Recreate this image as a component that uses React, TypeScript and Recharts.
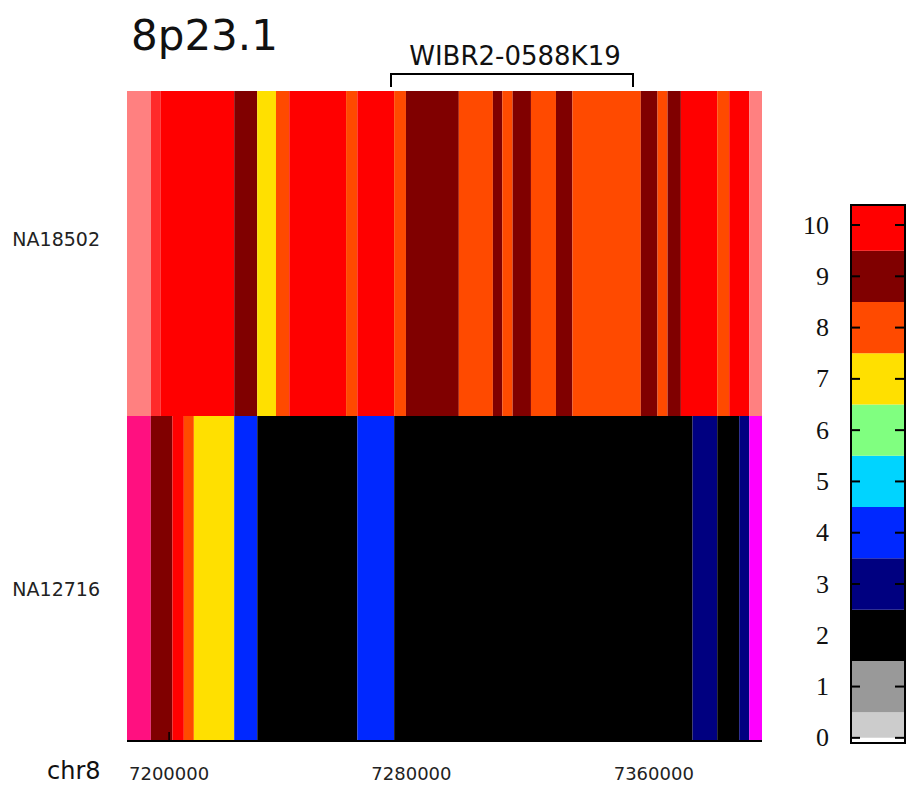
import React from 'react';
import { BarChart, Bar, XAxis, YAxis, Cell } from 'recharts';

// samples (rows) and the genomic window shown
const samples = ['NA18502', 'NA12716'];
const xDomain: [number, number] = [7186100, 7395720];
const xTicks = [7200000, 7280000, 7360000];

// segment end positions (bp) and copy-number level per segment
// levels above 10 are the odd edge colours that aren't on the colour bar
const topEnds = [
  7193950, 7197260, 7221490, 7229090, 7235280, 7239670, 7258420, 7262150, 7274290,
  7278190, 7295640, 7306880, 7309990, 7313400, 7319450, 7327710, 7333130, 7355710,
  7361230, 7364540, 7368940, 7380940, 7384900, 7391520, 7395720,
];
const topLevels = [12, 11, 10, 9, 7, 8, 10, 8, 10, 8, 9, 8, 9, 8, 9, 8, 9, 8, 9, 8, 9, 10, 8, 10, 12];

const bottomEnds = [
  7193950, 7201090, 7204860, 7208170, 7221490, 7229100, 7262150, 7274290, 7372800,
  7380940, 7388210, 7391520, 7395720,
];
const bottomLevels = [13, 9, 10, 8, 7, 4, 2, 4, 2, 3, 2, 3, 14];

// colour bar levels
const legendLevels = [0, 1, 2, 3, 4, 5, 6, 7, 8, 9, 10];
const legendDomain: [number, number] = [-0.12, 10.41];

const palette: Record<number, string> = {
  0: '#cccccc',
  1: '#999999',
  2: '#000000',
  3: '#000080',
  4: '#0028ff',
  5: '#00d4ff',
  6: '#80ff80',
  7: '#ffe000',
  8: '#ff4a00',
  9: '#800000',
  10: '#ff0000',
  11: '#ff2a2a',
  12: '#ff8080',
  13: '#ff1080',
  14: '#ff00ff',
};

const rowEnds = [topEnds, bottomEnds];
const rowLevels = [topLevels, bottomLevels];
const maxSegs = Math.max(topEnds.length, bottomEnds.length);

// stacked widths: first piece starts at 0 and gets clipped by the axis domain
const heatData = samples.map((sample, r) => {
  const row: Record<string, number | string> = { sample };
  rowEnds[r].forEach((end, i) => {
    row[`s${i}`] = i === 0 ? end : end - rowEnds[r][i - 1];
  });
  return row;
});

const legendData = [
  legendLevels.reduce<Record<string, number | string>>(
    (acc, lv) => {
      acc[`l${lv}`] = lv === 0 ? 0.5 : 1;
      return acc;
    },
    { name: 'scale' }
  ),
];

const sans = 'DejaVu Sans, Verdana, sans-serif';
const serif = 'Liberation Serif, Times New Roman, serif';

const SampleTick = (props: any) => {
  const { x, y, payload, index } = props;
  const dy = index === 0 ? -13 : 12;
  return (
    <text x={x} y={y + dy} textAnchor="end" dominantBaseline="middle" fontFamily={sans} fontSize={19} fill="#222">
      {payload.value}
    </text>
  );
};

const PosTick = (props: any) => {
  const { x, y, payload } = props;
  return (
    <g>
      <line x1={x} y1={y - 9} x2={x} y2={y} stroke="#000" strokeWidth={1.5} />
      <text x={x} y={y + 39} textAnchor="middle" fontFamily={sans} fontSize={18} fill="#222">
        {payload.value}
      </text>
    </g>
  );
};

const LegendTick = (props: any) => {
  const { x, y, payload } = props;
  return (
    <g>
      <text x={x - 21} y={y} textAnchor="end" dominantBaseline="central" fontFamily={serif} fontSize={26} fill="#111">
        {payload.value}
      </text>
      <line x1={x} y1={y} x2={x + 10} y2={y} stroke="#000" strokeWidth={2} />
      <line x1={x + 45} y1={y} x2={x + 56} y2={y} stroke="#000" strokeWidth={2} />
    </g>
  );
};

export default function App() {
  return (
    <div style={{ position: 'absolute', left: 0, top: 0, width: 906, height: 786, background: '#fff', overflow: 'hidden' }}>
      <div style={{ position: 'absolute', left: 0, top: 0 }}>
        <BarChart
          width={790}
          height={786}
          data={heatData}
          layout="vertical"
          margin={{ top: 91, right: 28, bottom: 0, left: 0 }}
          barCategoryGap={0}
          barGap={0}
        >
          <XAxis
            type="number"
            domain={xDomain}
            ticks={xTicks}
            allowDataOverflow
            height={45}
            tickSize={0}
            tickMargin={0}
            tick={<PosTick />}
            axisLine={{ stroke: '#000', strokeWidth: 2 }}
            tickLine={false}
          />
          <YAxis
            type="category"
            dataKey="sample"
            width={127}
            tickSize={0}
            tickMargin={27}
            tick={<SampleTick />}
            axisLine={false}
            tickLine={false}
          />
          {Array.from({ length: maxSegs }, (_, i) => (
            <Bar key={i} dataKey={`s${i}`} stackId="row" isAnimationActive={false}>
              {heatData.map((_, r) => (
                <Cell key={r} fill={palette[rowLevels[r][i]] ?? 'none'} />
              ))}
            </Bar>
          ))}
        </BarChart>
      </div>

      <div style={{ position: 'absolute', left: 790, top: 0 }}>
        <BarChart
          width={116}
          height={786}
          data={legendData}
          margin={{ top: 204, right: 0, bottom: 42, left: 0 }}
          barCategoryGap={0}
        >
          <XAxis dataKey="name" hide />
          <YAxis
            type="number"
            domain={legendDomain}
            ticks={legendLevels}
            allowDataOverflow
            width={60}
            tickSize={0}
            tickMargin={0}
            tick={<LegendTick />}
            axisLine={false}
            tickLine={false}
          />
          {legendLevels.map((lv) => (
            <Bar key={lv} dataKey={`l${lv}`} stackId="scale" fill={palette[lv]} isAnimationActive={false} />
          ))}
        </BarChart>
      </div>
      <div
        style={{
          position: 'absolute',
          left: 850,
          top: 204,
          width: 56,
          height: 540,
          border: '2px solid #000',
          boxSizing: 'border-box',
          pointerEvents: 'none',
        }}
      />

      <svg width={906} height={786} style={{ position: 'absolute', left: 0, top: 0, pointerEvents: 'none' }}>
        <text x={131} y={50} fontFamily={sans} fontSize={42} fill="#111">
          8p23.1
        </text>
        <text x={515} y={65} textAnchor="middle" fontFamily={sans} fontSize={26} fill="#111">
          WIBR2-0588K19
        </text>
        <polyline points="391,87 391,74 633,74 633,87" fill="none" stroke="#000" strokeWidth={2} />
        <text x={47} y={779} fontFamily={sans} fontSize={24} fill="#111">
          chr8
        </text>
      </svg>
    </div>
  );
}
